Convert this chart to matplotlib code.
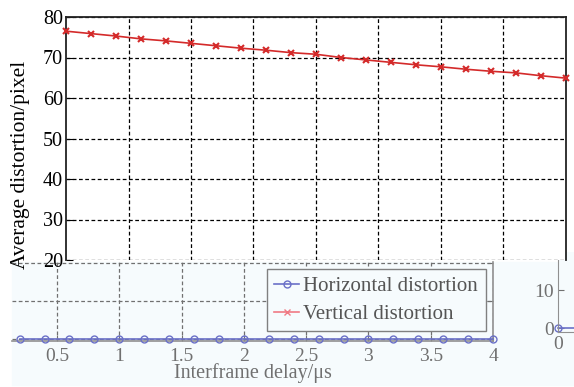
import matplotlib
matplotlib.use("Agg")
import matplotlib.pyplot as plt
from matplotlib.patches import Rectangle
import numpy as np

plt.rcParams["font.family"] = ["Liberation Serif", "DejaVu Serif"]

# ── data ──────────────────────────────────────────────────────────────────────
delay_top = [0.0, 0.2, 0.4, 0.6, 0.8, 1.0, 1.2, 1.4, 1.6, 1.8, 2.0,
             2.2, 2.4, 2.6, 2.8, 3.0, 3.2, 3.4, 3.6, 3.8, 4.0]
vertical = [76.5, 75.9, 75.3, 74.6, 74.1, 73.5, 72.9, 72.3, 71.8, 71.2, 70.8,
            70.0, 69.4, 68.8, 68.2, 67.7, 67.1, 66.6, 66.2, 65.5, 64.9]

delay_bot = [0.2, 0.4, 0.6, 0.8, 1.0, 1.2, 1.4, 1.6, 1.8, 2.0,
             2.2, 2.4, 2.6, 2.8, 3.0, 3.2, 3.4, 3.6, 3.8, 4.0]
horizontal = [0.0] * len(delay_bot)

# cropped neighbour panel on the far right: only its first point shows
delay_frag = [0, 10]
horizontal_frag = [0.0, 0.0]

top_yticks = [20, 30, 40, 50, 60, 70, 80]
bot_xticks = [0.5, 1, 1.5, 2, 2.5, 3, 3.5, 4]
bot_xlabels = ["0.5", "1", "1.5", "2", "2.5", "3", "3.5", "4"]

W, H = 574, 387
RED = "#d42a2a"
BLUE = "#6a70c8"
PALE = "#f6fbfd"
GREY = "#707070"


def box(l, t, r, b):
    """pixel box (left, top, right, bottom) -> figure fraction rect"""
    return [l / W, 1 - b / H, (r - l) / W, (b - t) / H]


fig = plt.figure(figsize=(W / 100, H / 100), dpi=100)

# pale background of the lower (pasted) panel
fig.add_artist(Rectangle((12 / W, 1 - 385 / H), (W - 12) / W, 123 / H,
                         transform=fig.transFigure, color=PALE, zorder=-5))

# ── lower panel ──────────────────────────────────────────────────────────────
axb = fig.add_axes(box(12, 262, 493, 341))
axb.set_facecolor(PALE)
axb.plot(delay_bot, horizontal, color=BLUE, lw=1.2, marker="o", ms=5,
         mfc="none", mew=1.0, clip_on=False, zorder=3,
         label="Horizontal distortion")
axb.plot([], [], color="#f07a84", lw=1.2, marker="x", ms=4,
         label="Vertical distortion")
axb.set_xlim(0.139, 4)
axb.set_ylim(-0.5, 20.3)
axb.set_xticks(bot_xticks)
axb.set_xticklabels(bot_xlabels)
axb.set_yticks([0, 10, 20])
axb.set_yticklabels([])
axb.tick_params(axis="both", direction="in", length=4, colors=GREY,
                labelsize=14, pad=5)
axb.tick_params(axis="y", left=False, right=True)
axb.grid(True, color=GREY, ls=(0, (3, 2)), lw=0.9)
for s in ["top", "left"]:
    axb.spines[s].set_visible(False)
for s in ["right", "bottom"]:
    axb.spines[s].set_color("#909090")
    axb.spines[s].set_linewidth(1.2)
axb.set_xlabel("Interframe delay/\u03bcs", fontsize=14.5, color=GREY,
               labelpad=-1)

leg = axb.legend(loc="upper left", bbox_to_anchor=(267 / W, 1 - 269 / H),
                 bbox_transform=fig.transFigure, fontsize=15, frameon=True,
                 fancybox=False, edgecolor="#808080", facecolor=PALE,
                 framealpha=1, handlelength=1.2, handletextpad=0.2,
                 borderpad=0.35, labelspacing=0.4, borderaxespad=0)
for t in leg.get_texts():
    t.set_color("#555555")
leg.set_zorder(10)

# ── small cropped panel on the right ─────────────────────────────────────────
axr = fig.add_axes(box(558, 252, 620, 332))
axr.set_facecolor(PALE)
axr.plot(delay_frag, horizontal_frag, color=BLUE, lw=1.2, marker="o", ms=5,
         mfc="none", mew=1.0, markevery=[0], clip_on=False)
axr.set_xlim(0, 10)
axr.set_ylim(-1, 20)
axr.set_xticks([0])
axr.set_yticks([0, 10, 20])
axr.tick_params(axis="both", direction="in", length=4, colors=GREY,
                labelsize=14, pad=3)
for s in ["top", "right"]:
    axr.spines[s].set_visible(False)
for s in ["left", "bottom"]:
    axr.spines[s].set_color("#909090")

# ── upper panel ──────────────────────────────────────────────────────────────
axt = fig.add_axes(box(66, 17, 566, 260))
axt.set_facecolor("white")
axt.plot(delay_top, vertical, color=RED, lw=1.2, marker="x", ms=4,
         mew=1.5, clip_on=False, zorder=3)
axt.set_xlim(0, 4)
axt.set_ylim(20, 80)
axt.set_yticks(top_yticks)
axt.set_xticks(np.arange(0.5, 4, 0.5))
axt.tick_params(axis="x", bottom=False, labelbottom=False)
axt.tick_params(axis="y", direction="in", length=5, labelsize=14.5,
                colors="black", pad=2)
axt.grid(True, color="black", ls=(0, (3, 2)), lw=0.9)
axt.spines["bottom"].set_visible(False)
for s in ["top", "left", "right"]:
    axt.spines[s].set_color("#222222")
    axt.spines[s].set_linewidth(1.3)

fig.text(21 / W, 1 - 165 / H, "Average distortion/pixel", rotation=90,
         fontsize=15.5, ha="center", va="center")

fig.savefig("out.png", dpi=100)
